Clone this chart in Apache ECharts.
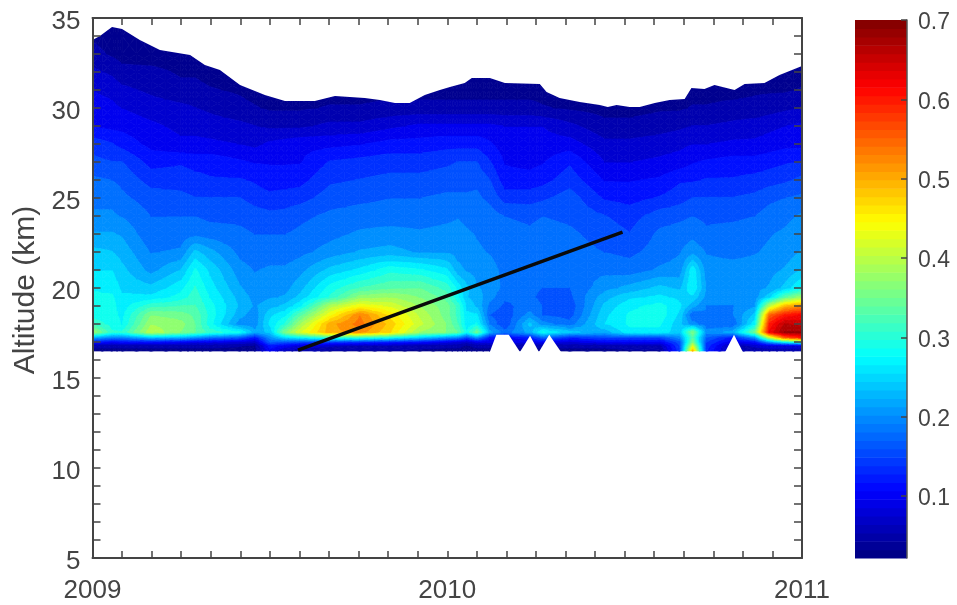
<!DOCTYPE html>
<html><head><meta charset="utf-8">
<style>html,body{margin:0;padding:0;background:#fff}#c{width:957px;height:605px;filter:blur(.5px)}</style>
<script src="https://cdn.jsdelivr.net/npm/echarts@6/dist/echarts.min.js"></script>
</head><body><div id="c"></div>
<script>
// Months since Jan 2009 for each column of the field
const months=[0,.66,1,1.98,2.99,3.47,3.97,4.99,5.49,6,6.51,7.01,8.03,9.04,10.06,11.07,11.98,12.36,12.66,13,13.44,13.95,14.79,15.23,16.14,17.33,18.17,19.18,19.86,20.3,20.77,21.65,22.4,22.9,23.41,24];
// Altitude (km) of each row of the field
const altitudes=[16.5,16.8,17,17.25,17.55,18,18.5,19,19.5,20,21,22,23,24,25,26,27,28,29,30,31,32,33,35];
const z165=[.035,.035,.035,.035,.035,.035,.035,.035,.035,.1,.06,.05,.04,.04,.04,.04,.035,.035,.035,.035,.035,.035,.035,.035,.035,.035,.04,.04,.14,.5,.13,.04,.05,.05,.05,.05];
const z168=[.05,.05,.05,.05,.05,.05,.05,.045,.04,.12,.1,.08,.07,.06,.06,.05,.05,.05,.04,.05,.05,.05,.05,.05,.05,.05,.055,.055,.15,.42,.14,.05,.07,.08,.08,.08];
const z170=[.12,.1,.11,.11,.1,.09,.09,.08,.07,.17,.16,.15,.14,.13,.12,.11,.09,.08,.07,.09,.09,.09,.09,.1,.08,.1,.1,.1,.16,.36,.15,.09,.11,.2,.26,.3];
const z1725=[.22,.19,.19,.23,.22,.2,.18,.16,.12,.2,.25,.27,.3,.3,.28,.24,.2,.19,.15,.2,.12,.1,.12,.17,.13,.15,.15,.15,.2,.33,.17,.12,.2,.4,.55,.6];
const z1755=[.38,.3,.3,.4,.36,.34,.31,.28,.22,.24,.36,.42,.5,.52,.47,.38,.36,.34,.28,.35,.22,.18,.22,.28,.24,.22,.27,.27,.24,.36,.2,.22,.35,.62,.68,.68];
const z180=[.31,.29,.275,.38,.37,.34,.285,.2,.2,.26,.3,.38,.5,.54,.48,.41,.36,.32,.26,.28,.19,.15,.24,.2,.18,.255,.28,.28,.24,.2,.18,.17,.27,.6,.66,.65];
const z185=[.29,.285,.27,.36,.35,.335,.29,.22,.2,.25,.27,.33,.44,.53,.46,.4,.35,.31,.26,.26,.17,.155,.2,.17,.16,.25,.28,.29,.25,.17,.19,.19,.24,.55,.6,.62];
const z190=[.285,.285,.265,.31,.32,.32,.285,.23,.21,.225,.24,.27,.39,.44,.42,.38,.35,.31,.25,.23,.185,.165,.18,.17,.155,.24,.27,.285,.26,.22,.19,.19,.21,.4,.49,.52];
const z195=[.28,.28,.26,.26,.285,.31,.275,.225,.205,.21,.215,.24,.3,.37,.38,.36,.33,.28,.235,.225,.2,.175,.175,.165,.165,.225,.25,.26,.25,.25,.205,.2,.2,.25,.33,.38];
const z200=[.275,.27,.25,.24,.27,.3,.265,.215,.2,.205,.205,.225,.285,.32,.335,.34,.31,.27,.24,.215,.205,.185,.175,.17,.17,.205,.22,.24,.23,.275,.21,.205,.205,.215,.24,.28];
const z210=[.255,.255,.24,.205,.235,.28,.25,.2,.19,.195,.195,.205,.24,.26,.29,.28,.26,.22,.21,.205,.2,.185,.18,.185,.185,.185,.18,.195,.2,.27,.2,.2,.2,.205,.215,.235];
const z220=[.24,.235,.225,.19,.195,.24,.22,.185,.18,.18,.18,.185,.2,.215,.22,.21,.21,.205,.2,.195,.19,.18,.18,.185,.18,.17,.165,.18,.19,.205,.19,.185,.19,.195,.2,.215];
const z230=[.215,.215,.21,.175,.18,.185,.18,.175,.17,.17,.17,.175,.185,.195,.2,.195,.2,.2,.195,.19,.185,.18,.175,.18,.175,.16,.15,.175,.18,.185,.175,.18,.185,.19,.195,.205];
const z240=[.195,.195,.19,.17,.17,.17,.165,.165,.16,.155,.155,.165,.175,.18,.18,.18,.185,.19,.185,.18,.18,.17,.165,.17,.165,.15,.14,.16,.165,.17,.165,.165,.17,.18,.185,.195];
const z250=[.185,.185,.175,.16,.155,.15,.15,.15,.14,.135,.14,.14,.16,.165,.17,.17,.175,.175,.175,.175,.165,.14,.14,.145,.16,.125,.12,.13,.14,.15,.15,.15,.155,.165,.17,.175];
const z260=[.175,.17,.165,.14,.14,.135,.13,.13,.125,.115,.115,.12,.145,.15,.155,.155,.16,.16,.16,.165,.15,.115,.115,.12,.14,.105,.105,.11,.125,.125,.13,.13,.135,.14,.145,.155];
const z270=[.155,.15,.15,.12,.125,.12,.12,.11,.105,.105,.105,.105,.13,.135,.14,.14,.145,.15,.15,.15,.13,.105,.1,.105,.125,.085,.085,.09,.095,.105,.11,.115,.115,.12,.125,.13];
const z280=[.14,.13,.12,.1,.09,.09,.09,.085,.08,.09,.095,.1,.1,.105,.115,.115,.12,.12,.12,.12,.11,.095,.095,.095,.095,.07,.07,.075,.08,.085,.085,.09,.09,.095,.1,.1];
const z290=[.105,.1,.1,.09,.08,.08,.075,.07,.065,.06,.06,.06,.07,.07,.08,.09,.09,.09,.09,.09,.09,.085,.085,.085,.07,.05,.05,.055,.06,.065,.065,.07,.075,.08,.085,.09];
const z300=[.095,.09,.085,.075,.07,.065,.06,.05,.045,.04,.04,.04,.045,.045,.05,.05,.05,.05,.05,.05,.05,.05,.05,.045,.04,.035,.035,.04,.04,.045,.045,.05,.05,.055,.06,.065];
const z310=[.085,.08,.07,.06,.05,.05,.045,.04,.035,.035,.035,.035,.035,.035,.035,.035,.035,.035,.035,.035,.035,.035,.035,.035,.035,.035,.035,.035,.035,.035,.035,.035,.04,.04,.04,.045];
const z320=[.07,.06,.05,.05,.04,.04,.035,.035,.03,.03,.03,.03,.03,.03,.03,.03,.03,.03,.03,.03,.03,.03,.03,.03,.03,.03,.03,.03,.03,.03,.03,.03,.03,.03,.035,.035];
const z330=[.05,.04,.035,.03,.03,.03,.03,.03,.03,.03,.03,.03,.03,.03,.03,.03,.03,.03,.03,.03,.03,.03,.03,.03,.03,.03,.03,.03,.03,.03,.03,.03,.03,.03,.03,.03];
const z350=[.03,.03,.03,.03,.03,.03,.03,.03,.03,.03,.03,.03,.03,.03,.03,.03,.03,.03,.03,.03,.03,.03,.03,.03,.03,.03,.03,.03,.03,.03,.03,.03,.03,.03,.03,.03];
const field=[z165,z168,z170,z1725,z1755,z180,z185,z190,z195,z200,z210,z220,z230,z240,z250,z260,z270,z280,z290,z300,z310,z320,z330,z350];
// Upper edge of the data
const topMonths=[0,.25,.66,1,1.6,2.28,3.3,3.8,4.31,4.99,5.83,6.51,7.52,8.2,9.21,9.72,10.23,10.73,11.24,11.75,12.09,12.59,12.83,13.44,13.95,15.13,15.36,15.8,16.48,17.16,17.43,17.73,18.17,18.51,19.02,19.52,20.03,20.26,20.7,21.04,21.72,22.06,22.73,23.24,24];
const topAltitude=[33.78,34,34.5,34.39,33.78,33.22,32.94,32.39,32.11,31.28,30.72,30.39,30.39,30.67,30.56,30.44,30.28,30.28,30.72,31,31.17,31.39,31.67,31.67,31.39,31.33,30.89,30.56,30.33,30.17,30.06,30.17,30.06,30.06,30.28,30.44,30.5,31.11,31.06,31.28,31,31.33,31.39,31.83,32.33];
// Missing data near the bottom edge
const gapA=[[13.44,16.45],[13.66,17.4],[14.08,17.4],[14.46,16.45]];
const gapB=[[14.46,16.45],[14.8,17.35],[15.1,16.45]];
const gapC=[[15.1,16.45],[15.45,17.4],[15.85,16.45]];
const gapD=[[21.4,16.45],[21.7,17.4],[22.0,16.45]];
// Black trend line
const trendLine=[[6.95,16.55],[17.93,23.11]];
const vMin=.022,vMax=.7,fieldBands=32,barBands=64;
const barTicks=[.1,.2,.3,.4,.5,.6,.7];
const timeTicks={0:'2009',12:'2010',24:'2011'};

function jet(t){
  const c=x=>Math.round(255*Math.max(0,Math.min(1,x)));
  const r=1.5-Math.abs(4*t-3),g=1.5-Math.abs(4*t-2),b=1.5-Math.abs(4*t-1);
  return `rgb(${c(r)},${c(g)},${c(b)})`;
}
function clip(poly,level,keepAbove){
  const out=[];
  for(let i=0;i<poly.length;i++){
    const p=poly[i],q=poly[(i+1)%poly.length];
    const pin=keepAbove?p[2]>=level:p[2]<=level, qin=keepAbove?q[2]>=level:q[2]<=level;
    if(pin)out.push(p);
    if(pin!==qin){const f=(level-p[2])/(q[2]-p[2]);out.push([p[0]+f*(q[0]-p[0]),p[1]+f*(q[1]-p[1]),level]);}
  }
  return out;
}
const polys=[];
const step=(vMax-vMin)/fieldBands;
function addTri(a,b,c){
  const vs=[a[2],b[2],c[2]];
  const lo=Math.max(0,Math.floor((Math.min(...vs)-vMin)/step));
  const hi=Math.min(fieldBands-1,Math.floor((Math.max(...vs)-vMin)/step));
  for(let k=lo;k<=hi;k++){
    let p=[a,b,c];
    if(k>0)p=clip(p,vMin+k*step,true);
    if(p.length&&k<fieldBands-1)p=clip(p,vMin+(k+1)*step,false);
    if(p.length>2)polys.push({pts:p,color:jet((k+.5)/fieldBands)});
  }
}
const sub=2;
for(let r=0;r<altitudes.length-1;r++)for(let c=0;c<months.length-1;c++){
  const at=(u,w)=>[months[c]+u*(months[c+1]-months[c]),altitudes[r]+w*(altitudes[r+1]-altitudes[r]),
    (1-w)*((1-u)*field[r][c]+u*field[r][c+1])+w*((1-u)*field[r+1][c]+u*field[r+1][c+1])];
  for(let i=0;i<sub;i++)for(let j=0;j<sub;j++){
    const u0=i/sub,u1=(i+1)/sub,w0=j/sub,w1=(j+1)/sub;
    const A=at(u0,w0),B=at(u1,w0),C=at(u1,w1),D=at(u0,w1),M=at((u0+u1)/2,(w0+w1)/2);
    addTri(A,B,M);addTri(B,C,M);addTri(C,D,M);addTri(D,A,M);
  }
}
const mask=[[0,35.5]].concat(topMonths.map((m,i)=>[m,topAltitude[i]]),[[24,35.5]]);
const whites=[mask,gapA,gapB,gapC,gapD];
const barCells=[];for(let i=0;i<barBands;i++)barCells.push(i);

const ink='#444';
const font='"Liberation Sans",Arial,sans-serif';
const xBase={type:'value',min:0,max:24,interval:1,gridIndex:0,z:10,splitLine:{show:false},
  axisLine:{show:true,onZero:false,lineStyle:{color:ink,width:2}},
  axisTick:{show:true,inside:true,length:7,lineStyle:{color:ink,width:1.5}}};
const yBase={type:'value',min:5,max:35,interval:1,gridIndex:0,z:10,splitLine:{show:false},
  axisLine:{show:true,onZero:false,lineStyle:{color:ink,width:2}},
  axisTick:{show:true,inside:true,length:8,lineStyle:{color:ink,width:1.5}}};

const chart=echarts.init(document.getElementById('c'),null,{renderer:'canvas'});
chart.setOption({
  animation:false,backgroundColor:'#fff',
  grid:[{left:92.5,right:155,top:18,bottom:47,containLabel:false},
        {left:855,right:50,top:20,bottom:47,containLabel:false}],
  xAxis:[
    Object.assign({},xBase,{position:'bottom',axisLabel:{show:true,margin:20,fontFamily:font,fontSize:26,color:ink,hideOverlap:false,showMinLabel:true,showMaxLabel:true,
      formatter:v=>timeTicks[v]||''}}),
    Object.assign({},xBase,{position:'top',axisLabel:{show:false}}),
    {type:'value',min:0,max:1,gridIndex:1,show:false}
  ],
  yAxis:[
    Object.assign({},yBase,{position:'left',name:'Altitude (km)',nameLocation:'middle',nameGap:51,
      nameTextStyle:{fontFamily:font,fontSize:30,color:ink,padding:[0,4,0,0]},
      axisLabel:{show:true,margin:12,showMinLabel:true,showMaxLabel:true,
      rich:{a:{fontFamily:font,fontSize:26,color:ink,padding:[7,0,0,0]}},
      formatter:v=>v%5===0?`{a|${v}}`:''}}),
    Object.assign({},yBase,{position:'right',axisLabel:{show:false}}),
    {type:'value',min:vMin,max:vMax,gridIndex:1,position:'right',z:10,splitLine:{show:false},
      axisLine:{show:true,onZero:false,lineStyle:{color:'#555',width:1.5}},
      axisTick:{show:true,inside:true,length:6,customValues:barTicks,lineStyle:{color:'#444',width:1.5}},
      axisLabel:{show:true,margin:11,customValues:barTicks,
      rich:{a:{fontFamily:font,fontSize:23,color:ink,padding:[6,0,0,0]}},
      formatter:v=>`{a|${v.toFixed(1)}}`}}
  ],
  series:[
    {type:'custom',xAxisIndex:0,yAxisIndex:0,z:2,silent:true,clip:true,progressive:0,
      data:polys.map((p,i)=>[i]),
      renderItem:(params,api)=>{const p=polys[params.dataIndex];
        return {type:'polygon',shape:{points:p.pts.map(q=>api.coord([q[0],q[1]]))},
          style:{fill:p.color,stroke:p.color,lineWidth:.7}};}},
    {type:'custom',xAxisIndex:0,yAxisIndex:0,z:3,silent:true,clip:true,
      data:whites.map((p,i)=>[i]),
      renderItem:(params,api)=>({type:'polygon',shape:{points:whites[params.dataIndex].map(q=>api.coord(q))},
          style:{fill:'#fff'}})},
    {type:'line',xAxisIndex:0,yAxisIndex:0,z:4,silent:true,data:trendLine,symbol:'none',
      lineStyle:{color:'#0a0a0a',width:3.5}},
    {type:'custom',xAxisIndex:2,yAxisIndex:2,z:2,silent:true,
      data:barCells.map(i=>[i]),
      renderItem:(params,api)=>{const i=params.dataIndex,s=(vMax-vMin)/barBands;
        const a=api.coord([0,vMin+i*s]),b=api.coord([1,vMin+(i+1)*s]);
        return {type:'rect',shape:{x:a[0],y:b[1],width:b[0]-a[0],height:a[1]-b[1]+.6},
          style:{fill:jet((i+.5)/barBands)}};}}
  ]
});
</script></body></html>
